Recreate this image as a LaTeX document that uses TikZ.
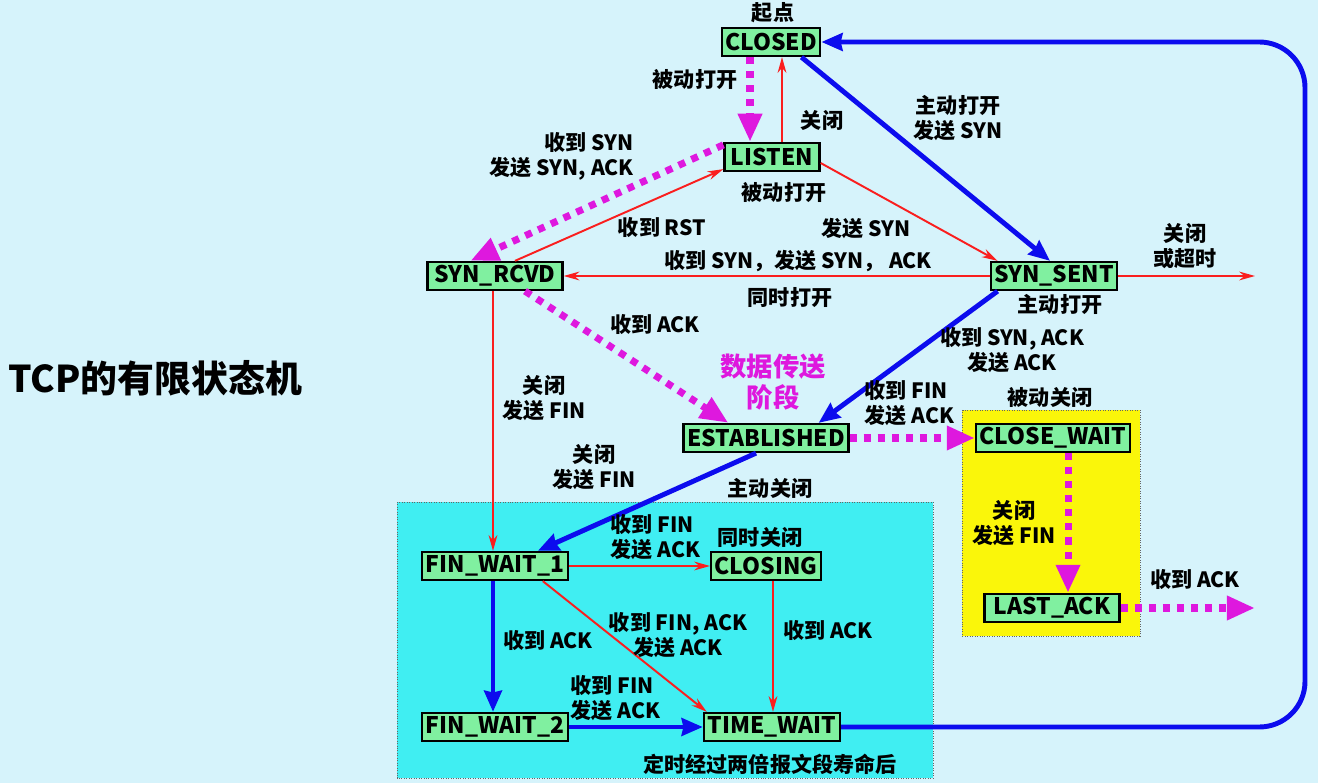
\documentclass[tikz,border=0pt]{standalone}
\usepackage{fontspec}
\setmainfont{Noto Sans CJK SC}
\usetikzlibrary{arrows.meta,calc}

\definecolor{bgblue}{RGB}{214,243,251}
\definecolor{stategreen}{RGB}{128,240,160}
\definecolor{zonecyan}{RGB}{64,238,242}
\definecolor{zoneyellow}{RGB}{250,246,10}
\definecolor{arrred}{RGB}{250,30,30}
\definecolor{arrblue}{RGB}{12,12,238}
\definecolor{arrmag}{RGB}{222,24,222}

\begin{document}
\begin{tikzpicture}[
    x=0.02cm, y=-0.02cm,
    font=\bfseries\fontsize{12}{14.2}\selectfont,
    state/.style={rectangle, draw=black, line width=1.3pt, fill=stategreen, minimum height=0.56cm, inner xsep=2pt, inner ysep=0pt, font=\bfseries\fontsize{13}{14}\selectfont},
    lbl/.style={align=center, inner sep=0pt},
    redarr/.style={draw=arrred, line width=1.1pt, -{Stealth[length=9pt,width=5pt]}},
    bluearr/.style={draw=arrblue, line width=2.8pt, -{Stealth[length=12pt,width=10pt,inset=1pt]}},
    magarr/.style={draw=arrmag, line width=4pt, dash pattern=on 4pt off 4pt, -{Triangle[length=16pt,width=13pt]}}
]

% ============================================
% FONDO Y ZONAS
% ============================================
\fill[bgblue] (0,0) rectangle (1318,783);
\useasboundingbox (0,0) rectangle (1318,783);

% zona de cierre activo (cian)
\filldraw[fill=zonecyan, draw=black!60, densely dotted, thin] (397,502) rectangle (933,778);

% zona de cierre pasivo (amarilla)
\filldraw[fill=zoneyellow, draw=black!60, densely dotted, thin] (962,410) rectangle (1140,636);

% Titulo
\node[font=\bfseries\fontsize{21}{24}\selectfont] at (155,378) (title) {TCP的有限状态机};

% ============================================
% ESTADOS
% ============================================
\node[state, minimum width=1.94cm] at (771,42)   (closed)      {CLOSED};
\node[state, minimum width=1.90cm] at (772,157)  (listen)      {LISTEN};
\node[state, minimum width=2.70cm] at (495,276)  (syn_rcvd)    {SYN\_RCVD};
\node[state, minimum width=2.46cm] at (1054,276) (syn_sent)    {SYN\_SENT};
\node[state, minimum width=3.18cm] at (766,438)  (established) {ESTABLISHED};
\node[state, minimum width=3.04cm] at (1053,438) (close_wait)  {CLOSE\_WAIT};
\node[state, minimum width=2.70cm] at (1052,608) (last_ack)    {LAST\_ACK};
\node[state, minimum width=2.64cm] at (495,566)  (fin_wait_1)  {FIN\_WAIT\_1};
\node[state, minimum width=1.90cm] at (766,566)  (closing)     {CLOSING};
\node[state, minimum width=2.64cm] at (495,727)  (fin_wait_2)  {FIN\_WAIT\_2};
\node[state, minimum width=2.72cm] at (772,727)  (time_wait)   {TIME\_WAIT};

% extremos libres
\coordinate (sent_out) at (1255,276);
\coordinate (ack_out)  at (1255,608);

% ============================================
% TRANSICIONES
% ============================================

% apertura
\draw[magarr]  ($(closed.south)+(-21,0)$) -- ($(listen.north)+(-22,0)$);
\draw[redarr]  ($(listen.north)+(10,0)$) -- ($(closed.south)+(11,0)$);
\draw[bluearr] ($(closed.south east)+(-20,0)$) -- ($(syn_sent.north)+(-4,0)$);
\draw[magarr]  ($(listen.north west)+(0,3)$) -- ($(syn_rcvd.north west)+(44,0)$);
\draw[redarr]  ($(syn_rcvd.north)+(20,0)$) -- ($(listen.south west)+(0,-3)$);
\draw[redarr]  ($(listen.east)+(0,6)$) -- ($(syn_sent.north west)+(8,0)$);
\draw[redarr]  (syn_sent.west) -- (syn_rcvd.east);
\draw[redarr]  (syn_sent.east) -- (sent_out);
\draw[magarr]  ($(syn_rcvd.south)+(30,0)$) -- ($(established.north west)+(46,0)$);
\draw[bluearr] ($(syn_sent.south west)+(8,0)$) -- ($(established.north east)+(-31,0)$);

% cierre pasivo
\draw[magarr]  (established.east) -- (close_wait.west);
\draw[magarr]  ($(close_wait.south)+(15,0)$) -- ($(last_ack.north)+(16,0)$);
\draw[magarr]  (last_ack.east) -- (ack_out);

% cierre activo
\draw[redarr]  ($(syn_rcvd.south)+(-2,0)$) -- ($(fin_wait_1.north)+(-2,0)$);
\draw[bluearr] ($(established.south)+(-10,0)$) -- ($(fin_wait_1.north east)+(-31,0)$);
\draw[redarr]  (fin_wait_1.east) -- (closing.west);
\draw[redarr]  ($(fin_wait_1.south east)+(-26,0)$) -- ($(time_wait.north west)+(4,0)$);
\draw[redarr]  ($(closing.south)+(7,0)$) -- ($(time_wait.north)+(1,0)$);
\draw[bluearr] ($(fin_wait_1.south)+(-2,0)$) -- ($(fin_wait_2.north)+(-2,0)$);
\draw[bluearr] (fin_wait_2.east) -- (time_wait.west);
\draw[bluearr, rounded corners=26pt] (time_wait.east) -- (1305,727) -- (1305,42) -- (closed.east);

% ============================================
% ETIQUETAS
% ============================================
\node[lbl] at (773,13)   (l_start)   {起点};
\node[lbl] at (695,80)   (l_popen)   {被动打开};
\node[lbl] at (822,120)  (l_close1)  {关闭};
\node[lbl] at (958,118)  (l_aopen)   {主动打开\\发送 SYN};
\node[lbl, anchor=east, align=right] at (634,156) (l_rsyn) {收到 SYN\\发送 SYN, ACK};
\node[lbl] at (662,228)  (l_rst)     {收到 RST};
\node[lbl] at (784,193)  (l_popen2)  {被动打开};
\node[lbl] at (866,229)  (l_ssyn)    {发送 SYN};
\node[lbl] at (798,261)  (l_simsyn)  {收到 SYN，发送 SYN， ACK};
\node[lbl] at (790,298)  (l_simopen) {同时打开};
\node[lbl] at (1185,246) (l_timeout) {关闭\\或超时};
\node[lbl] at (655,325)  (l_rack)    {收到 ACK};
\node[lbl] at (1060,304) (l_aopen2)  {主动打开};
\node[lbl] at (1012,350) (l_synack)  {收到 SYN, ACK\\发送 ACK};
\node[lbl, text=arrmag, font=\bfseries\fontsize{15}{18}\selectfont] at (773,382) (l_data) {数据传送\\阶段};
\node[lbl, anchor=west, align=left] at (864,403) (l_rfin) {收到 FIN\\发送 ACK};
\node[lbl] at (1050,397) (l_pclose)  {被动关闭};
\node[lbl] at (1014,523) (l_cwfin)   {关闭\\发送 FIN};
\node[lbl] at (1195,580) (l_lastack) {收到 ACK};
\node[lbl] at (544,398)  (l_srfin)   {关闭\\发送 FIN};
\node[lbl] at (594,467)  (l_esfin)   {关闭\\发送 FIN};
\node[lbl] at (770,488)  (l_aclose)  {主动关闭};
\node[lbl, anchor=west, align=left] at (610,537) (l_f1fin) {收到 FIN\\发送 ACK};
\node[lbl] at (760,537)  (l_simclose) {同时关闭};
\node[lbl] at (678,635)  (l_finack)  {收到 FIN, ACK\\发送 ACK};
\node[lbl] at (548,641)  (l_f1ack)   {收到 ACK};
\node[lbl] at (828,631)  (l_clack)   {收到 ACK};
\node[lbl, anchor=west, align=left] at (570,698) (l_f2fin) {收到 FIN\\发送 ACK};
\node[lbl] at (770,764)  (l_2msl)    {定时经过两倍报文段寿命后};

\end{tikzpicture}
\end{document}
